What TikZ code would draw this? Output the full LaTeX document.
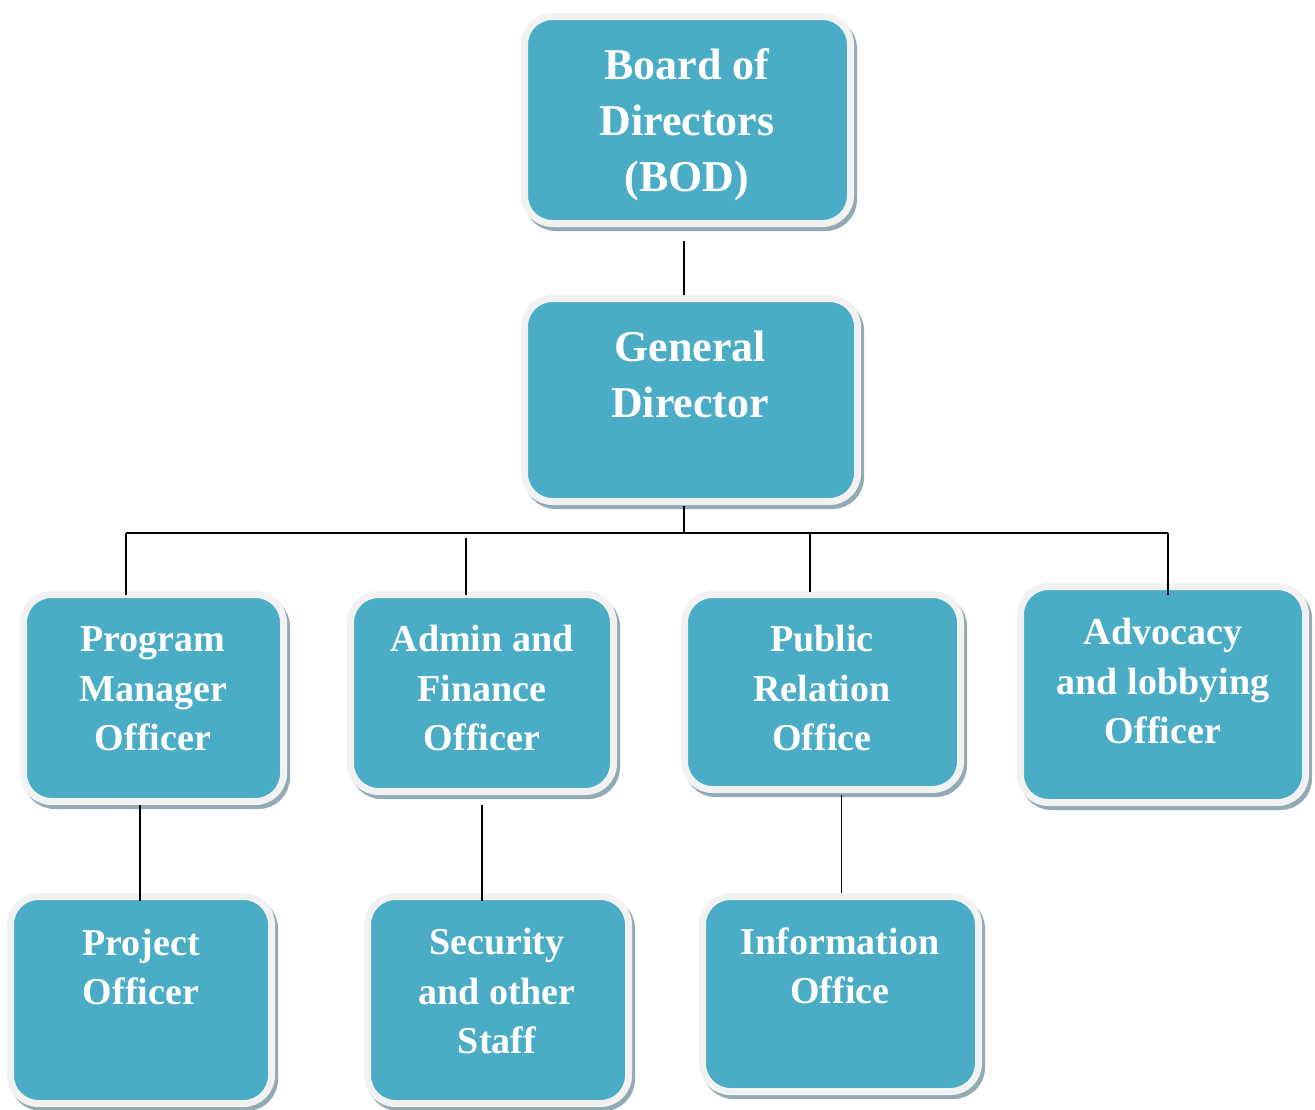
\documentclass[tikz,border=0pt]{standalone}
\usepackage{fontspec}
\setmainfont{Liberation Serif}
\usetikzlibrary{calc,shadows}
\definecolor{BoxClr}{RGB}{75,172,198}
\definecolor{RimClr}{RGB}{242,242,242}
\definecolor{ShadeClr}{RGB}{145,170,180}

\begin{document}
\begin{tikzpicture}[x=1pt,y=-1pt,
  unit/.style={rectangle,rounded corners=28pt,fill=BoxClr,draw=RimClr,line width=7pt,inner sep=0pt,
    general shadow={fill=ShadeClr,draw=ShadeClr,line width=7pt,shadow xshift=3pt,shadow yshift=-4pt}},
  bigtxt/.style={text=white,align=center,font=\bfseries\fontsize{44}{56}\selectfont},
  smalltxt/.style={text=white,align=center,font=\bfseries\fontsize{38}{49.5}\selectfont},
  link/.style={line width=1.8pt,color=black}]
\useasboundingbox (0,0) rectangle (1315,1109);


\node[unit,minimum width=326pt,minimum height=207pt] (bod) at (687.5,120) {};
\node[unit,minimum width=333pt,minimum height=203pt] (gd) at (691,400) {};

\node[unit,minimum width=260pt,minimum height=207pt] (pm) at (153.5,698) {};
\node[unit,minimum width=263pt,minimum height=197pt] (af) at (482,693) {};
\node[unit,minimum width=276pt,minimum height=195pt] (pr) at (822.5,692) {};
\node[unit,minimum width=285pt,minimum height=216pt] (al) at (1163,694.5) {};

\node[unit,minimum width=261pt,minimum height=207pt] (po) at (141,1000) {};
\node[unit,minimum width=261pt,minimum height=207pt] (ss) at (498,1000) {};
\node[unit,minimum width=276pt,minimum height=195pt] (io) at (840.5,994) {};


\node[bigtxt] (bodtxt) at (687,125) {Board of\\Directors\\(BOD)};
\node[bigtxt] (gdtxt) at (690,374) {General\\Director};

\node[smalltxt] (pmtxt) at (153,689) {Program\\Manager\\Officer};
\node[smalltxt] (aftxt) at (482,688) {Admin and\\Finance\\Officer};
\node[smalltxt] (prtxt) at (822,688) {Public\\Relation\\Office};
\node[smalltxt] (altxt) at (1163,681) {Advocacy\\and lobbying\\Officer};

\node[smalltxt] (potxt) at (141,967) {Project\\Officer};
\node[smalltxt] (sstxt) at (497,991) {Security\\and other\\Staff};
\node[smalltxt] (iotxt) at (840,966) {Information\\Office};


\coordinate (bus) at (684,533);
\coordinate (pmtap) at (126,533);
\coordinate (aftap) at (466,538);
\coordinate (prtap) at (810,533);
\coordinate (altap) at (1168,533);

\draw[link] ($(bod.south -| bus)+(0,14)$) -- ($(gd.north -| bus)+(0,0)$);
\draw[link] ($(gd.south -| bus)+(0,1)$) -- (bus);
\draw[link] (pmtap) -- (altap);
\draw[link] (pmtap) -- ($(pmtap |- pm.north)+(0,4)$);
\draw[link] (aftap) -- ($(aftap |- af.north)+(0,4)$);
\draw[link] (prtap) -- ($(prtap |- pr.north)+(0,1)$);
\draw[link] (altap) -- ($(altap |- al.north)+(0,12)$);

\draw[link] ($(pm.south -| po)+(-1,0)$) -- ($(po.north)+(-1,8)$);
\draw[link] ($(af.south)+(0,10)$) -- ($(af.south |- ss.north)+(0,8)$);
\draw[link] ($(pr.south -| io)+(1,2)$) -- ($(io.north)+(1,0)$);

\end{tikzpicture}
\end{document}
